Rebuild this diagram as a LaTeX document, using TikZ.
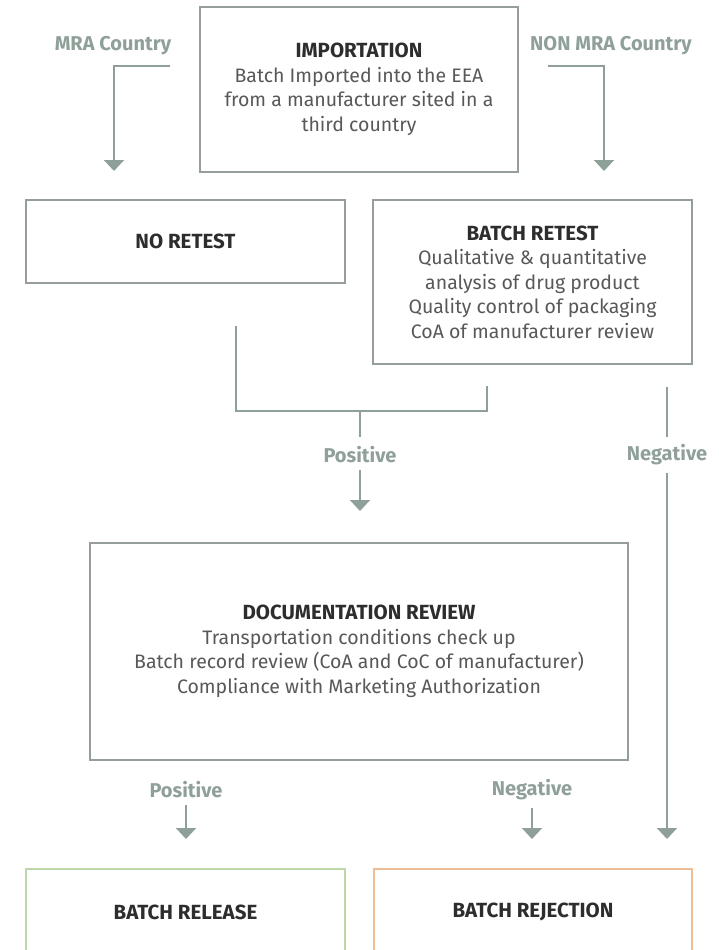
\documentclass[tikz,border=0pt]{standalone}
\usepackage{fontspec}
\setmainfont{Fira Sans}
\definecolor{BoxGray}{RGB}{150,158,155}
\definecolor{FlowGray}{RGB}{143,160,153}
\definecolor{TitleDark}{RGB}{45,45,45}
\definecolor{BodyGray}{RGB}{88,88,88}
\definecolor{ReleaseGreen}{RGB}{190,215,170}
\definecolor{RejectOrange}{RGB}{240,190,150}
\usetikzlibrary{positioning,arrows.meta,calc}
\tikzset{>={Triangle[width=20pt,length=11pt]}}
\tikzset{mybox/.style={draw=BoxGray,line width=1.6pt,rectangle,inner sep=0pt,align=center,text=BodyGray,font=\fontsize{19.5}{24.5}\selectfont}}
\tikzset{mylabel/.style={text=FlowGray,inner sep=0pt,font=\fontsize{20}{22}\selectfont\bfseries}}
\tikzset{myflow/.style={draw=FlowGray,line width=2pt}}
\newcommand{\boxtitle}[1]{{\fontsize{20.5}{24.5}\selectfont\bfseries\color{TitleDark}#1}}

\begin{document}
\begin{tikzpicture}[x=1pt,y=-1pt]
    \useasboundingbox (0,0) rectangle (719,950);
    % boxes
    \node[mybox,minimum width=318pt,minimum height=165pt] (import) at (359,89.5)
        {\boxtitle{IMPORTATION}\\Batch Imported into the EEA\\from a manufacturer sited in a\\third country};
    \node[mybox,minimum width=319pt,minimum height=83pt] (noretest) at (185.5,241.5)
        {\boxtitle{NO RETEST}};
    \node[mybox,minimum width=319pt,minimum height=164pt] (retest) at (532.5,282)
        {\boxtitle{BATCH RETEST}\\Qualitative \& quantitative\\analysis of drug product\\Quality control of packaging\\CoA of manufacturer review};
    \node[mybox,minimum width=538pt,minimum height=217pt] (docreview) at (359,651.5)
        {\boxtitle{DOCUMENTATION REVIEW}\\Transportation conditions check up\\Batch record review (CoA and CoC of manufacturer)\\Compliance with Marketing Authorization};
    \node[mybox,draw=ReleaseGreen,minimum width=319pt,minimum height=86pt] (release) at (185.5,912)
        {\boxtitle{BATCH RELEASE}};
    \node[mybox,draw=RejectOrange,minimum width=318pt,minimum height=86pt] (reject) at (533,912)
        {\boxtitle{BATCH REJECTION}};

    % labels
    \node[mylabel] (mra) at (113,46) {MRA Country};
    \node[mylabel] (nonmra) at (611,46) {NON MRA Country};
    \node[mylabel] (pos1) at (360,455) {Positive};
    \node[mylabel] (neg1) at (667,455) {Negative};
    \node[mylabel] (pos2) at (186,790) {Positive};
    \node[mylabel] (neg2) at (532,790) {Negative};

    % free ends
    \coordinate (mraA) at (170,66);
    \coordinate (mraB) at (114,171);
    \coordinate (nonA) at (548,66);
    \coordinate (nonB) at (604,171);
    \coordinate (noA) at (236,326);
    \coordinate (reA) at (487,386);
    \coordinate (joinA) at (360,411);
    \coordinate (pos1A) at (360,437);
    \coordinate (pos1B) at (360,511);
    \coordinate (neg1A) at (667,387);
    \coordinate (neg1B) at (667,839);
    \coordinate (pos2B) at (186,839);
    \coordinate (neg2B) at (532,839);

    % connectors
    \draw[myflow,->] (mraA) -| (mraB);
    \draw[myflow,->] (nonA) -| (nonB);
    \draw[myflow] (noA) |- (joinA) -| (reA);
    \draw[myflow] (joinA) -- (pos1A);
    \draw[myflow,->] (pos1.south) ++(0,7) -- (pos1B);
    \draw[myflow] (neg1A) -- (neg1A |- pos1A);
    \draw[myflow,->] (neg1.south) ++(0,7) -- (neg1B);
    \draw[myflow,->] (pos2.south) ++(0,7) -- (pos2B);
    \draw[myflow,->] (neg2.south) ++(0,7) -- (neg2B);
\end{tikzpicture}
\end{document}
